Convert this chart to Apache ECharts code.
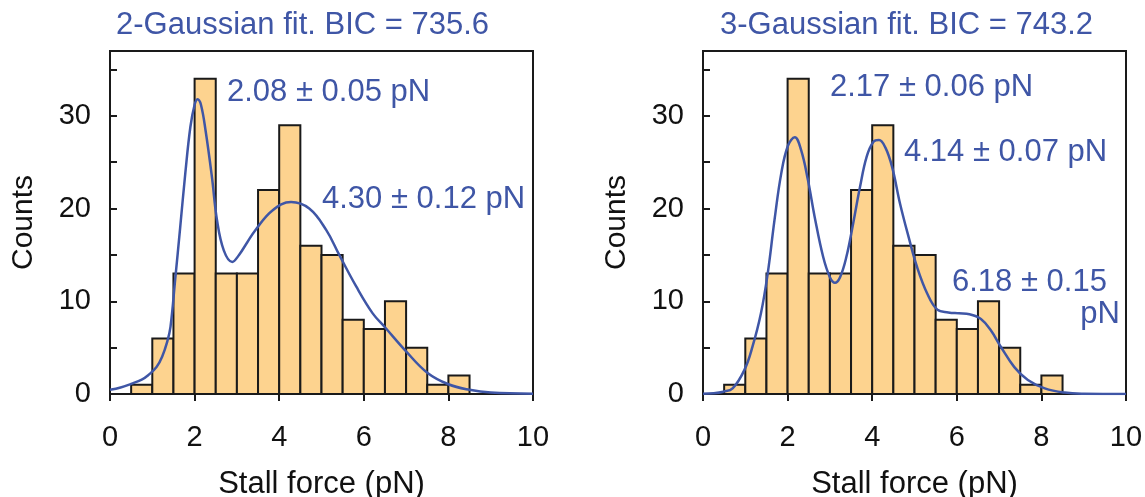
<!DOCTYPE html>
<html>
<head>
<meta charset="utf-8">
<script src="https://cdn.jsdelivr.net/npm/echarts@6/dist/echarts.min.js"></script>
<style>
html,body{margin:0;padding:0;background:#fff;}
#chart{width:1145px;height:497px;}
</style>
</head>
<body>
<div id="chart"></div>
<script>
// ---- data ----
const binStarts = [0.5, 1.0, 1.5, 2.0, 2.5, 3.0, 3.5, 4.0, 4.5, 5.0, 5.5, 6.0, 6.5, 7.0, 7.5, 8.0];
const counts    = [1,   6,   13,  34,  13,  13,  22,  29,  16,  15,  8,   7,   10,  5,   1,   2];
const binWidth = 0.5;

const fit2X = [0, 0.25, 0.5, 0.75, 0.91, 1.1, 1.23, 1.35, 1.43, 1.54, 1.66, 1.78, 1.9, 2.0, 2.07, 2.15, 2.26, 2.41, 2.53, 2.69, 2.89, 3.05, 3.25, 3.44, 3.84, 4.28, 4.71, 5.11, 5.42, 5.82, 6.21, 6.5, 7.0, 7.5, 8.0, 8.5, 9.0, 10];
const fit2Y = [0.45, 0.7, 1.1, 1.55, 2.05, 2.9, 4.0, 5.6, 7.25, 12.3, 18.0, 23.8, 28.8, 31.2, 31.8, 31.2, 28.4, 23.4, 18.75, 15.5, 14.25, 15.0, 16.4, 17.7, 19.8, 20.7, 20.0, 17.7, 15.0, 11.6, 8.7, 7.2, 4.6, 2.3, 1.05, 0.45, 0.15, 0.03];

const fit3X = [0, 0.25, 0.48, 0.7, 0.98, 1.17, 1.37, 1.53, 1.69, 1.85, 2.01, 2.17, 2.32, 2.48, 2.64, 2.84, 3.0, 3.12, 3.24, 3.39, 3.55, 3.71, 3.87, 4.03, 4.16, 4.31, 4.47, 4.66, 4.86, 5.06, 5.3, 5.54, 5.8, 6.05, 6.3, 6.57, 6.8, 7.04, 7.36, 7.68, 8.08, 8.55, 9.0, 10];
const fit3Y = [0.02, 0.08, 0.25, 0.6, 2.6, 5.1, 8.7, 13.0, 18.75, 23.8, 26.8, 27.7, 26.3, 23.1, 19.1, 14.8, 12.6, 12.0, 12.6, 14.8, 18.4, 22.3, 25.6, 27.2, 27.4, 26.6, 24.5, 20.5, 16.95, 13.7, 10.85, 9.1, 8.8, 8.7, 8.6, 8.1, 6.9, 5.1, 2.9, 1.5, 0.6, 0.15, 0.03, 0];

const xTicks = [0, 2, 4, 6, 8, 10];
const titles = ['2-Gaussian fit. BIC = 735.6', '3-Gaussian fit. BIC = 743.2'];
const notesLeft = ['2.08 \u00b1 0.05 pN', '4.30 \u00b1 0.12 pN'];
const notesRight = ['2.17 \u00b1 0.06 pN', '4.14 \u00b1 0.07 pN', '6.18 \u00b1 0.15', 'pN'];
const xName = 'Stall force (pN)';
const yName = 'Counts';

// ---- styles ----
const BLUE = '#3F56A6';
const BAR_FILL = '#FDD38F';
const INK = '#1a1a1a';
const FONT = '"Liberation Sans", Arial, sans-serif';

const chart = echarts.init(document.getElementById('chart'), null, {renderer: 'canvas'});

const histData = binStarts.map((s, i) => [s, counts[i]]);
const zip = (xs, ys) => xs.map((x, i) => [x, ys[i]]);

function renderBin(params, api) {
  const x0 = api.value(0);
  const c = api.value(1);
  const p1 = api.coord([x0, c]);
  const p2 = api.coord([x0 + binWidth, 0]);
  return {
    type: 'rect',
    shape: {x: p1[0], y: p1[1], width: p2[0] - p1[0], height: p2[1] - p1[1]},
    style: {fill: BAR_FILL, stroke: INK, lineWidth: 2}
  };
}

function xAxisCfg(gi) {
  return {
    gridIndex: gi, type: 'value', min: 0, max: 10, interval: 2,
    name: xName, nameLocation: 'middle', nameGap: 75,
    nameTextStyle: {fontSize: 31, color: '#111', fontFamily: FONT},
    axisLine: {show: true, lineStyle: {color: INK, width: 2}},
    axisTick: {show: true, inside: false, length: 7, lineStyle: {color: INK, width: 2}},
    axisLabel: {fontSize: 29, color: '#111', fontFamily: FONT, margin: 29},
    splitLine: {show: false}
  };
}
function yAxisCfg(gi) {
  return {
    gridIndex: gi, type: 'value', min: 0, max: 37, interval: 5,
    name: yName, nameLocation: 'middle', nameGap: 71,
    nameTextStyle: {fontSize: 30, color: '#111', fontFamily: FONT},
    axisLine: {show: true, lineStyle: {color: INK, width: 2}},
    axisTick: {show: true, inside: true, length: 7, lineStyle: {color: INK, width: 2}},
    axisLabel: {fontSize: 29, color: '#111', fontFamily: FONT, margin: 19,
      formatter: v => (v % 10 === 0 ? String(v) : '')},
    splitLine: {show: false}
  };
}

function txt(x, y, text, align) {
  return {
    type: 'text', x: x, y: y, z: 100,
    style: {text: text, fill: BLUE, font: '31px ' + FONT, textAlign: align || 'left', textVerticalAlign: 'middle'}
  };
}

const gridBase = {top: 51, width: 423, height: 343, show: true, borderColor: INK, borderWidth: 2,
  backgroundColor: 'transparent', containLabel: false, outerBoundsMode: 'none'};

const option = {
  animation: false,
  backgroundColor: '#fff',
  grid: [
    Object.assign({left: 110}, gridBase),
    Object.assign({left: 703}, gridBase)
  ],
  xAxis: [xAxisCfg(0), xAxisCfg(1)],
  yAxis: [yAxisCfg(0), yAxisCfg(1)],
  series: [
    {type: 'custom', xAxisIndex: 0, yAxisIndex: 0, renderItem: renderBin, data: histData, z: 2},
    {type: 'custom', xAxisIndex: 1, yAxisIndex: 1, renderItem: renderBin, data: histData, z: 2},
    {type: 'line', xAxisIndex: 0, yAxisIndex: 0, data: zip(fit2X, fit2Y), smooth: 0.4, showSymbol: false,
      lineStyle: {color: BLUE, width: 2.5}, z: 5},
    {type: 'line', xAxisIndex: 1, yAxisIndex: 1, data: zip(fit3X, fit3Y), smooth: 0.4, showSymbol: false,
      lineStyle: {color: BLUE, width: 2.5}, z: 5}
  ],
  graphic: [
    txt(116, 25.5, titles[0]),
    txt(720, 25.5, titles[1]),
    txt(227, 92, notesLeft[0]),
    txt(322, 199, notesLeft[1]),
    txt(830, 87.5, notesRight[0]),
    txt(904, 152, notesRight[1]),
    txt(952, 282, notesRight[2]),
    txt(1120, 314, notesRight[3], 'right')
  ]
};
chart.setOption(option);
</script>
</body>
</html>
